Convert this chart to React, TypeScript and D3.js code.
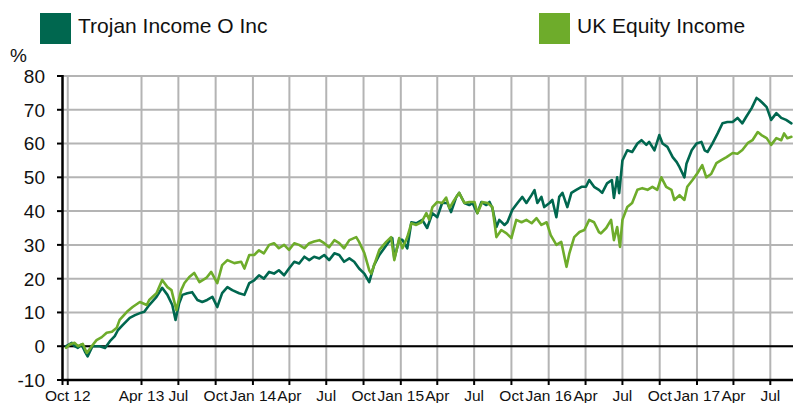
import React from "react";
import * as d3 from "d3";

const seriesNames = ["Trojan Income O Inc", "UK Equity Income"];
const seriesColors = ["#00674F", "#6EAC2B"];

const trojan: [string, number][] = [
  ["2012-09-27", 0], ["2012-10-11", 1], ["2012-10-18", 0], ["2012-10-26", -0.5], ["2012-11-04", 0.5],
  ["2012-11-12", -1.5], ["2012-11-19", -3], ["2012-12-01", 0], ["2012-12-19", 0], ["2013-01-01", -0.5],
  ["2013-01-13", 1.5], ["2013-01-25", 3], ["2013-02-02", 4.8], ["2013-02-14", 6.3], ["2013-03-03", 8.4],
  ["2013-03-16", 9.2], ["2013-03-28", 9.8], ["2013-04-08", 10.2], ["2013-04-20", 12.2], ["2013-05-08", 14.6],
  ["2013-05-22", 17.3], ["2013-06-04", 15.2], ["2013-06-16", 12.2], ["2013-06-24", 7.8], ["2013-07-03", 12.7],
  ["2013-07-11", 15.2], ["2013-07-23", 15.7], ["2013-08-04", 16], ["2013-08-17", 13.7], ["2013-08-29", 13.1],
  ["2013-09-10", 13.7], ["2013-09-23", 14.6], ["2013-10-05", 11.6], ["2013-10-17", 15.7], ["2013-10-30", 17.5],
  ["2013-11-11", 16.6], ["2013-11-28", 15.7], ["2013-12-11", 15.2], ["2013-12-23", 18.7], ["2014-01-04", 19.5],
  ["2014-01-16", 21], ["2014-01-28", 20], ["2014-02-10", 22], ["2014-02-22", 21.5], ["2014-03-06", 22.5],
  ["2014-03-19", 21], ["2014-03-31", 23], ["2014-04-13", 25], ["2014-04-25", 24.5], ["2014-05-08", 26.5],
  ["2014-05-20", 25.5], ["2014-06-01", 26.5], ["2014-06-14", 26], ["2014-06-26", 27], ["2014-07-08", 25.5],
  ["2014-07-21", 27.5], ["2014-08-02", 27], ["2014-08-14", 25], ["2014-08-27", 26], ["2014-09-08", 25],
  ["2014-09-20", 23], ["2014-10-03", 21.5], ["2014-10-15", 19], ["2014-10-27", 24], ["2014-11-09", 27],
  ["2014-11-21", 29], ["2014-12-03", 31], ["2014-12-11", 32], ["2014-12-16", 26], ["2014-12-28", 31.5],
  ["2015-01-05", 31.5], ["2015-01-17", 29], ["2015-01-27", 36.7], ["2015-02-08", 36.4], ["2015-02-23", 37.4],
  ["2015-03-07", 35], ["2015-03-20", 39.4], ["2015-04-01", 38.2], ["2015-04-13", 42.4], ["2015-04-26", 42.4],
  ["2015-05-05", 39.7], ["2015-05-18", 44.2], ["2015-05-25", 45.4], ["2015-06-07", 42.4], ["2015-06-19", 41.8],
  ["2015-06-27", 42.4], ["2015-07-09", 39.4], ["2015-07-19", 42.7], ["2015-07-31", 41.8], ["2015-08-08", 42.7],
  ["2015-08-15", 40.9], ["2015-08-25", 35.3], ["2015-09-01", 37.4], ["2015-09-14", 35.9], ["2015-09-21", 36.7],
  ["2015-10-03", 40.3], ["2015-10-16", 42.4], ["2015-10-28", 44.2], ["2015-11-07", 42.4], ["2015-11-20", 44.8],
  ["2015-11-27", 46.2], ["2015-12-04", 42.4], ["2015-12-14", 44.2], ["2015-12-21", 41.2], ["2016-01-03", 42.4],
  ["2016-01-10", 43.3], ["2016-01-20", 38.2], ["2016-01-27", 44.2], ["2016-02-04", 45.4], ["2016-02-16", 41.2],
  ["2016-02-26", 45.4], ["2016-03-09", 46.3], ["2016-03-22", 47.2], ["2016-04-02", 47.2], ["2016-04-10", 49.2],
  ["2016-04-22", 47.2], ["2016-05-04", 46.3], ["2016-05-12", 45.4], ["2016-05-24", 48.2], ["2016-06-05", 49.2],
  ["2016-06-10", 43.9], ["2016-06-18", 50], ["2016-06-23", 45.3], ["2016-07-01", 55], ["2016-07-13", 58],
  ["2016-07-25", 57.5], ["2016-08-07", 60], ["2016-08-17", 61], ["2016-08-29", 59.6], ["2016-09-05", 60.5],
  ["2016-09-18", 58], ["2016-09-30", 62.5], ["2016-10-08", 60], ["2016-10-20", 59], ["2016-11-02", 56],
  ["2016-11-12", 54.5], ["2016-11-19", 53], ["2016-12-01", 50], ["2016-12-06", 54], ["2016-12-19", 58],
  ["2016-12-31", 60], ["2017-01-12", 60.5], ["2017-01-20", 58], ["2017-01-27", 57.5], ["2017-02-08", 60],
  ["2017-02-21", 63], ["2017-03-05", 66], ["2017-03-17", 66.4], ["2017-03-30", 66.4], ["2017-04-11", 67.6],
  ["2017-04-23", 66], ["2017-05-03", 68], ["2017-05-16", 70.5], ["2017-05-28", 73.5], ["2017-06-04", 72.9],
  ["2017-06-12", 72], ["2017-06-22", 70.8], ["2017-07-03", 67], ["2017-07-16", 69], ["2017-07-28", 67.6],
  ["2017-08-09", 67], ["2017-08-22", 66],
];

const ukEquity: [string, number][] = [
  ["2012-09-27", -0.5], ["2012-10-06", 0.5], ["2012-10-18", 1], ["2012-10-26", 0], ["2012-11-07", 0.7],
  ["2012-11-17", -2], ["2012-11-29", 0], ["2012-12-11", 1.8], ["2012-12-24", 2.7], ["2013-01-05", 4],
  ["2013-01-18", 4.3], ["2013-01-30", 5.5], ["2013-02-06", 7.8], ["2013-02-24", 10.2], ["2013-03-10", 11.6],
  ["2013-03-28", 13.1], ["2013-04-14", 12.2], ["2013-04-20", 13.7], ["2013-05-08", 15.7], ["2013-05-22", 19.6],
  ["2013-06-04", 17.5], ["2013-06-14", 16.6], ["2013-06-26", 10.7], ["2013-07-08", 16.6], ["2013-07-16", 18.7],
  ["2013-07-28", 20.5], ["2013-08-09", 21.7], ["2013-08-22", 19], ["2013-09-08", 20.2], ["2013-09-20", 22],
  ["2013-10-05", 18.7], ["2013-10-17", 24], ["2013-10-30", 25.5], ["2013-11-16", 24.6], ["2013-12-03", 25],
  ["2013-12-11", 23], ["2013-12-23", 27], ["2014-01-04", 27], ["2014-01-16", 28.4], ["2014-01-28", 27.5],
  ["2014-02-10", 30], ["2014-02-22", 30.5], ["2014-03-06", 29], ["2014-03-19", 30], ["2014-03-31", 28.5],
  ["2014-04-13", 30.5], ["2014-04-25", 30], ["2014-05-08", 29], ["2014-05-20", 30.5], ["2014-06-01", 31],
  ["2014-06-14", 31.4], ["2014-06-26", 30.5], ["2014-07-08", 29.3], ["2014-07-21", 31.4], ["2014-08-02", 30.5],
  ["2014-08-14", 29], ["2014-08-27", 31.4], ["2014-09-13", 32.3], ["2014-09-20", 30.9], ["2014-10-03", 27.6],
  ["2014-10-15", 22.5], ["2014-10-20", 21.5], ["2014-11-09", 28.5], ["2014-11-26", 30.9], ["2014-12-08", 32.3],
  ["2014-12-16", 25.5], ["2014-12-28", 32], ["2015-01-05", 29], ["2015-01-17", 32.3], ["2015-01-27", 36.4],
  ["2015-02-08", 35.9], ["2015-02-21", 36.7], ["2015-03-05", 39.4], ["2015-03-12", 37.5], ["2015-03-20", 41.2],
  ["2015-04-01", 42.7], ["2015-04-13", 42.4], ["2015-04-23", 44], ["2015-05-01", 40.9], ["2015-05-13", 43.3],
  ["2015-05-25", 45.4], ["2015-06-07", 42.4], ["2015-06-19", 42.7], ["2015-07-02", 42.7], ["2015-07-09", 39.4],
  ["2015-07-21", 42.7], ["2015-08-03", 42.4], ["2015-08-15", 41.2], ["2015-08-25", 32.3], ["2015-09-06", 34.4],
  ["2015-09-19", 33.4], ["2015-10-01", 32], ["2015-10-13", 37.4], ["2015-10-26", 36.7], ["2015-11-07", 37.4],
  ["2015-11-20", 36.4], ["2015-12-02", 37.9], ["2015-12-14", 35.9], ["2015-12-27", 36.7], ["2016-01-06", 32.9],
  ["2016-01-20", 30], ["2016-02-01", 30.9], ["2016-02-14", 23.5], ["2016-02-21", 27.5], ["2016-03-04", 32.3],
  ["2016-03-17", 33.8], ["2016-03-29", 34.4], ["2016-04-10", 37.4], ["2016-04-22", 36.7], ["2016-05-04", 33.8],
  ["2016-05-09", 33.4], ["2016-05-22", 35], ["2016-06-03", 37.4], ["2016-06-10", 31.4], ["2016-06-18", 35.3],
  ["2016-06-25", 29.4], ["2016-07-01", 37.4], ["2016-07-13", 41.2], ["2016-07-25", 42.4], ["2016-08-07", 46.3],
  ["2016-08-19", 46.8], ["2016-09-01", 46.3], ["2016-09-13", 47.2], ["2016-09-25", 46.3], ["2016-10-05", 50],
  ["2016-10-17", 47.2], ["2016-10-30", 46.3], ["2016-11-06", 43.3], ["2016-11-19", 44.7], ["2016-12-01", 43.3],
  ["2016-12-08", 47.2], ["2016-12-21", 49.2], ["2017-01-02", 51.2], ["2017-01-14", 53.6], ["2017-01-24", 50],
  ["2017-02-05", 51], ["2017-02-18", 54.2], ["2017-03-02", 55.1], ["2017-03-15", 56], ["2017-03-30", 57.2],
  ["2017-04-11", 57], ["2017-04-23", 58.1], ["2017-05-06", 60.1], ["2017-05-18", 61], ["2017-05-31", 63.4],
  ["2017-06-09", 62.5], ["2017-06-22", 61.6], ["2017-07-03", 59.6], ["2017-07-16", 61.6], ["2017-07-28", 61],
  ["2017-08-04", 63], ["2017-08-12", 61.6], ["2017-08-22", 62],
];

const xTickDates = [
  "2012-10-01", "2013-04-01", "2013-07-01", "2013-10-01", "2014-01-01", "2014-04-01", "2014-07-01",
  "2014-10-01", "2015-01-01", "2015-04-01", "2015-07-01", "2015-10-01", "2016-01-01", "2016-04-01",
  "2016-07-01", "2016-10-01", "2017-01-01", "2017-04-01", "2017-07-01",
];
const xTickLabels = [
  "Oct 12", "Apr 13", "Jul", "Oct", "Jan 14", "Apr", "Jul", "Oct", "Jan 15", "Apr", "Jul", "Oct",
  "Jan 16", "Apr", "Jul", "Oct", "Jan 17", "Apr", "Jul",
];
const yTicks = [80, 70, 60, 50, 40, 30, 20, 10, 0, -10];
const xDomain = ["2012-09-18", "2017-08-26"];
const yDomain = [-10, 80];

const parse = d3.timeParse("%Y-%m-%d");
const FONT = "'Liberation Sans', Arial, Helvetica, sans-serif";

export default function App() {
  const W = 793, H = 403;
  const left = 62.5, right = 793, top = 76, bottom = 380;
  const x = d3.scaleTime().domain(xDomain.map((d) => parse(d)!)).range([left, right]);
  const y = d3.scaleLinear().domain(yDomain).range([bottom, top]);
  const line = d3
    .line<[string, number]>()
    .x((d) => x(parse(d[0])!))
    .y((d) => y(d[1]));
  const grid = "#b4b4b4";
  const series = [trojan, ukEquity];

  return (
    <svg
      width={W}
      height={H}
      style={{ position: "absolute", left: 0, top: 0, display: "block", background: "#fff" }}
      fontFamily={FONT}
    >
      {/* legend */}
      {seriesNames.map((name, i) => (
        <g key={name}>
          <rect x={i === 0 ? 40 : 539} y={13} width={31} height={31} fill={seriesColors[i]} />
          <text x={i === 0 ? 78 : 577} y={32.5} fontSize={21} fill="#111">
            {name}
          </text>
        </g>
      ))}
      <text x={10} y={61.5} fontSize={19} fill="#111">
        %
      </text>

      {/* horizontal grid */}
      {yTicks.map((t) => (
        <line key={"h" + t} x1={left} x2={right} y1={y(t)} y2={y(t)} stroke={grid} strokeWidth={2} />
      ))}
      {/* vertical grid */}
      {xTickDates.map((d) => (
        <line key={"v" + d} x1={x(parse(d)!)} x2={x(parse(d)!)} y1={top} y2={bottom} stroke={grid} strokeWidth={2} />
      ))}

      {/* zero line */}
      <line x1={left} x2={right} y1={y(0)} y2={y(0)} stroke="#000" strokeWidth={2} />

      {/* series */}
      {series.map((s, i) => (
        <path
          key={i}
          d={line(s) || ""}
          fill="none"
          stroke={seriesColors[i]}
          strokeWidth={2.6}
          strokeLinejoin="round"
          strokeLinecap="round"
        />
      ))}

      {/* y axis */}
      <line x1={left} x2={left} y1={top - 1} y2={bottom + 1} stroke="#000" strokeWidth={2.5} />
      {yTicks.map((t) => (
        <g key={"yt" + t}>
          <line x1={57} x2={left} y1={y(t)} y2={y(t)} stroke="#000" strokeWidth={2} />
          <text x={45} y={y(t)} dy="0.36em" textAnchor="end" fontSize={19} fill="#111">
            {t}
          </text>
        </g>
      ))}

      {/* x axis */}
      <line x1={left - 1} x2={right} y1={bottom} y2={bottom} stroke="#000" strokeWidth={2.5} />
      {xTickDates.map((d, i) => (
        <g key={"xt" + d}>
          <line x1={x(parse(d)!)} x2={x(parse(d)!)} y1={bottom} y2={bottom + 5} stroke="#000" strokeWidth={2} />
          <text x={x(parse(d)!)} y={401} textAnchor="middle" fontSize={15.5} fill="#111">
            {xTickLabels[i]}
          </text>
        </g>
      ))}
      <line x1={left} x2={left} y1={bottom} y2={bottom + 5} stroke="#000" strokeWidth={2} />
    </svg>
  );
}
